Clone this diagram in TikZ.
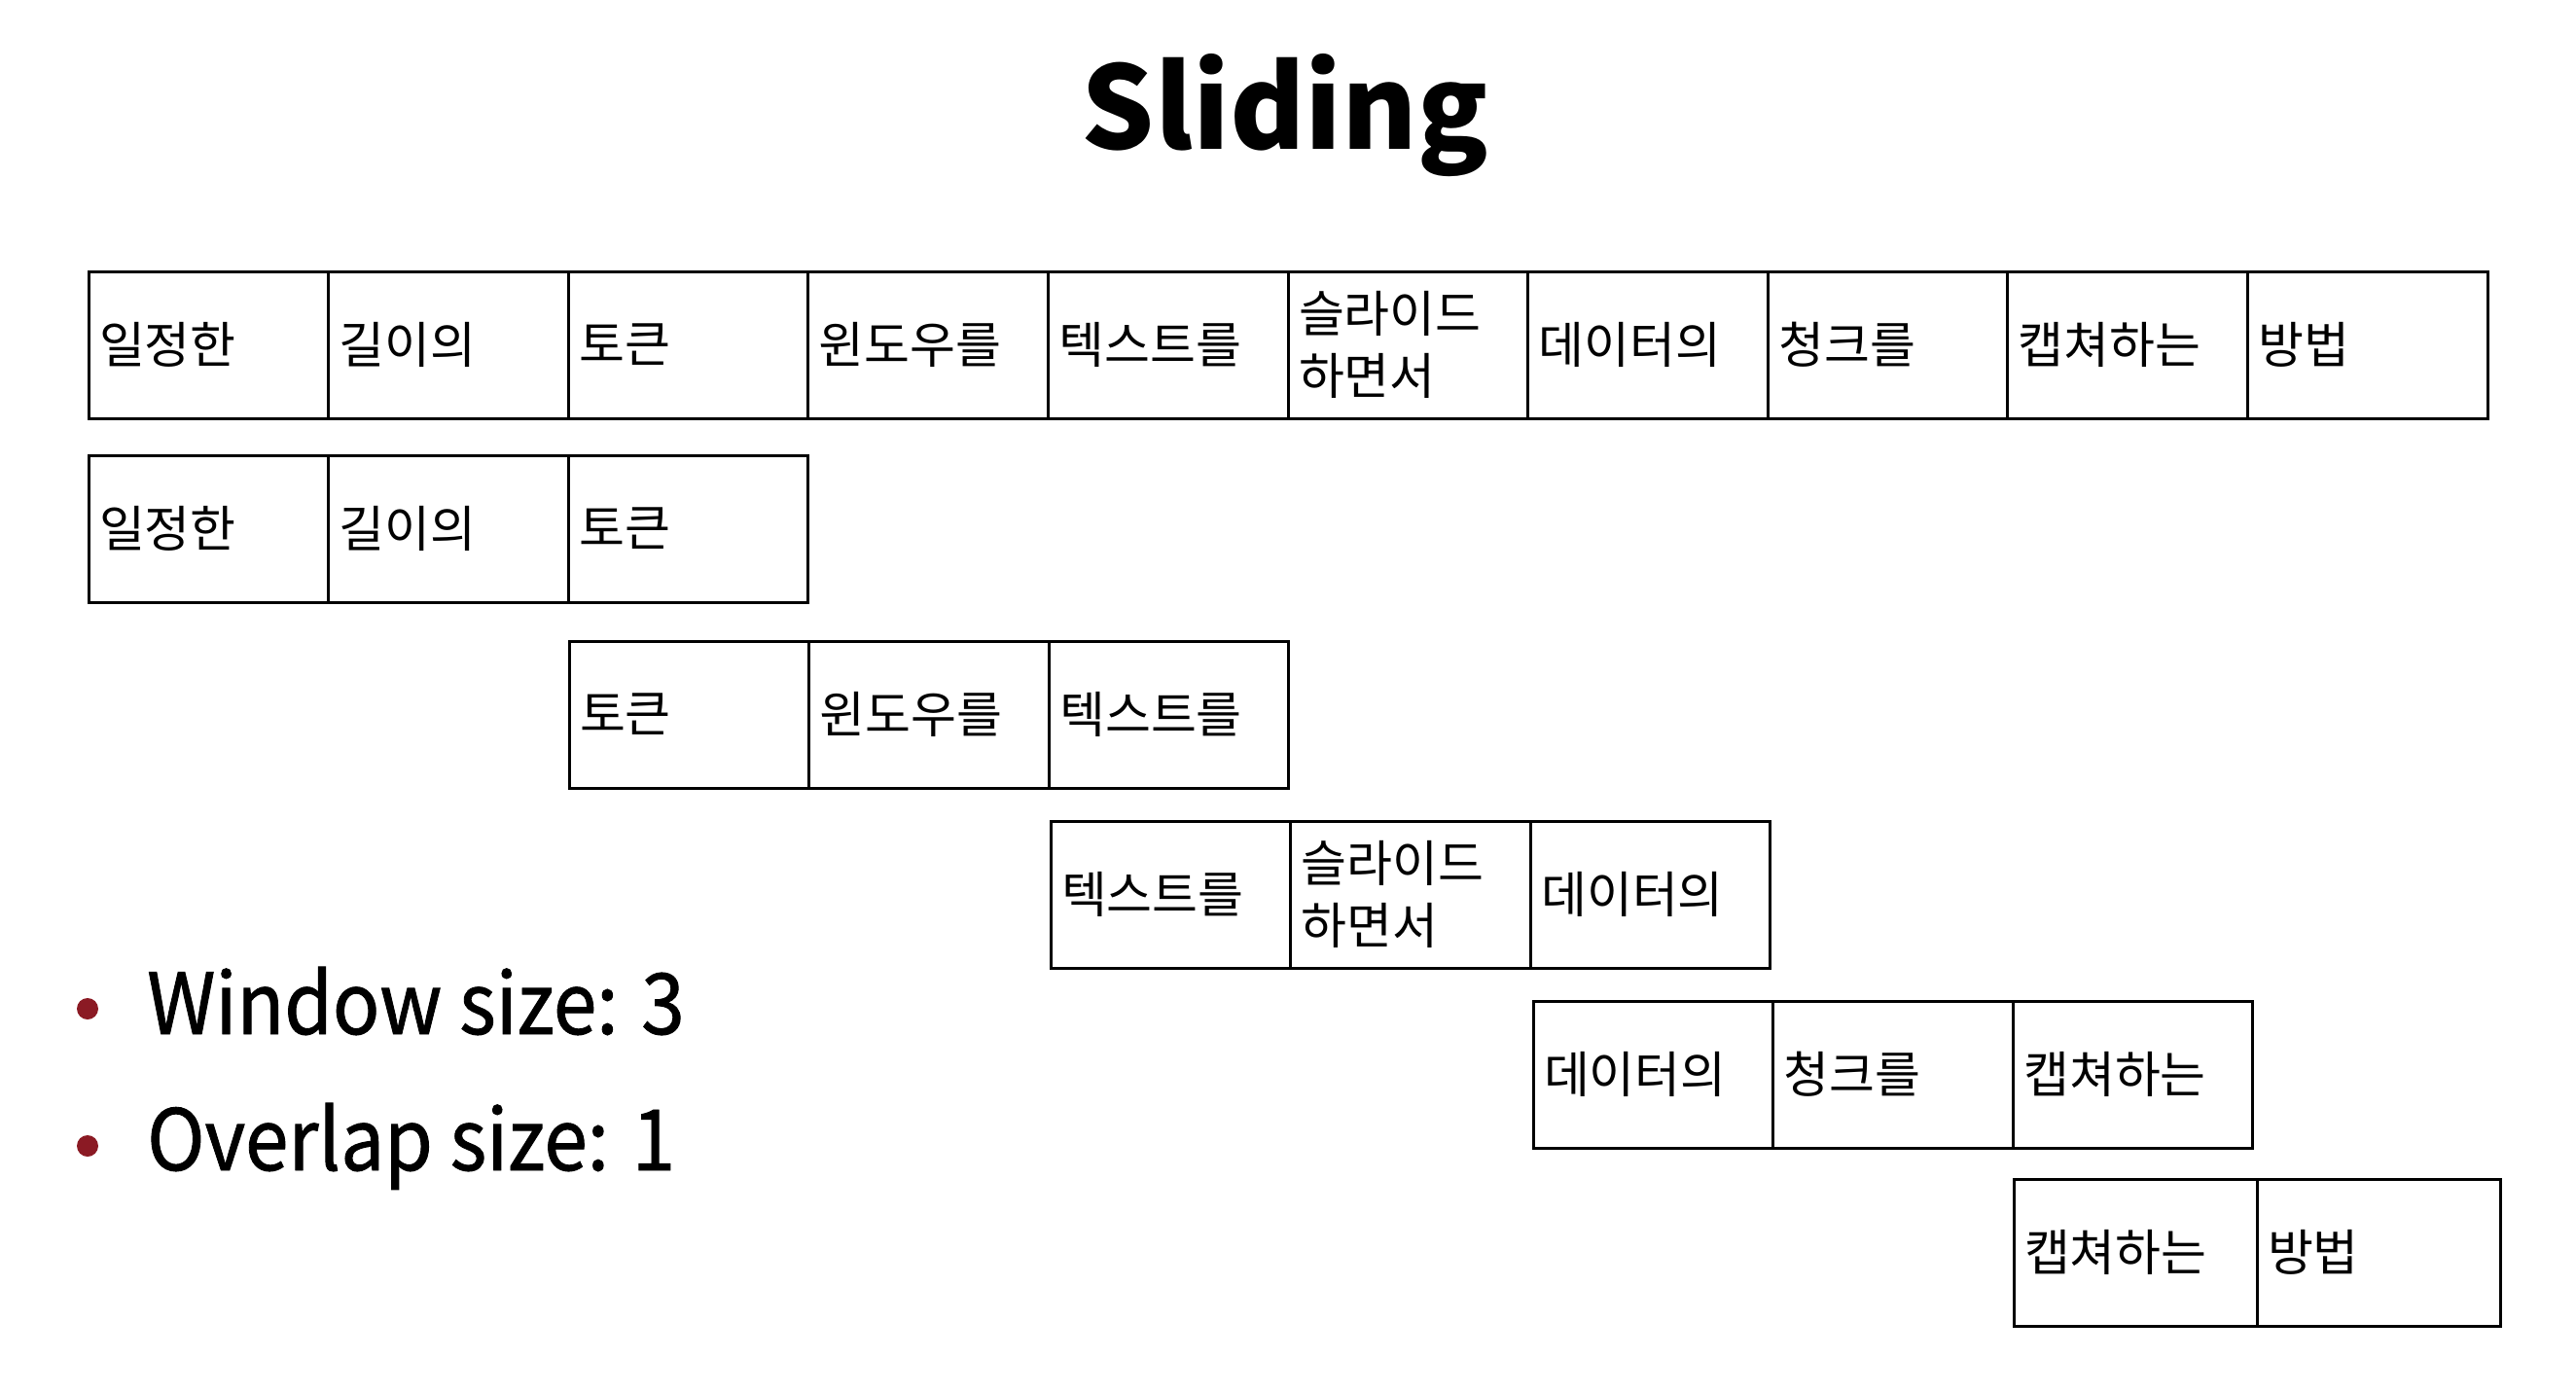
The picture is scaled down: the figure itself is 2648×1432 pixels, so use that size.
\documentclass[tikz,border=0pt]{standalone}
\usepackage{fontspec}
\setmainfont{Noto Sans CJK KR}
\newfontfamily\itemfont{Noto Sans CJK KR}[FakeStretch=0.92,FakeBold=1]
\usepackage{xcolor}
\usepackage{tikz}
\usetikzlibrary{positioning}
\definecolor{bulletred}{HTML}{8B1A24}
\tikzstyle{cell}=[draw,line width=3pt,outer sep=0pt,inner xsep=11pt,inner ysep=0pt,
  minimum height=151pt,text width=224.6pt,align=left,font=\fontsize{51}{64}\selectfont]
\tikzstyle{cellw}=[cell,text width=228pt]
\tikzstyle{bullet}=[circle,fill=bulletred,inner sep=0pt,minimum size=22pt]
\tikzstyle{item}=[anchor=base west,inner sep=0pt,font=\itemfont\fontsize{87}{87}\selectfont]
\begin{document}
\begin{tikzpicture}[x=1pt,y=-1pt]
  \useasboundingbox (0,0) rectangle (2648,1432);
  \node[anchor=base,inner sep=0pt,font=\fontsize{118}{118}\bfseries\selectfont] (title) at (1321,153) {Sliding};
  % full sentence
  \node[cell,anchor=north west] (a1) at (91,279) {일정한};
  \node[cell,right=0pt of a1] (a2) {길이의};
  \node[cell,right=0pt of a2] (a3) {토큰};
  \node[cell,right=0pt of a3] (a4) {윈도우를};
  \node[cell,right=0pt of a4] (a5) {텍스트를};
  \node[cell,right=0pt of a5] (a6) {슬라이드\\하면서};
  \node[cell,right=0pt of a6] (a7) {데이터의};
  \node[cell,right=0pt of a7] (a8) {청크를};
  \node[cell,right=0pt of a8] (a9) {캡쳐하는};
  \node[cell,right=0pt of a9] (a10) {방법};
  % windows
  \node[cell,anchor=north west] (w1a) at (91,468) {일정한};
  \node[cell,right=0pt of w1a] (w1b) {길이의};
  \node[cell,right=0pt of w1b] (w1c) {토큰};
  \node[cell,anchor=north west] (w2a) at (585,659) {토큰};
  \node[cell,right=0pt of w2a] (w2b) {윈도우를};
  \node[cell,right=0pt of w2b] (w2c) {텍스트를};
  \node[cell,anchor=north west] (w3a) at (1080,844) {텍스트를};
  \node[cell,right=0pt of w3a] (w3b) {슬라이드\\하면서};
  \node[cell,right=0pt of w3b] (w3c) {데이터의};
  \node[cell,anchor=north west] (w4a) at (1576,1029) {데이터의};
  \node[cell,right=0pt of w4a] (w4b) {청크를};
  \node[cell,right=0pt of w4b] (w4c) {캡쳐하는};
  \node[cellw,anchor=north west] (w5a) at (2070,1212) {캡쳐하는};
  \node[cellw,right=0pt of w5a] (w5b) {방법};
  % bullets
  \node[bullet] (b1) at (90,1037) {};
  \node[item] (t1) at (151,1063) {Window size: 3};
  \node[bullet] (b2) at (90,1178) {};
  \node[item] (t2) at (151,1203) {Overlap size: 1};
\end{tikzpicture}
\end{document}
